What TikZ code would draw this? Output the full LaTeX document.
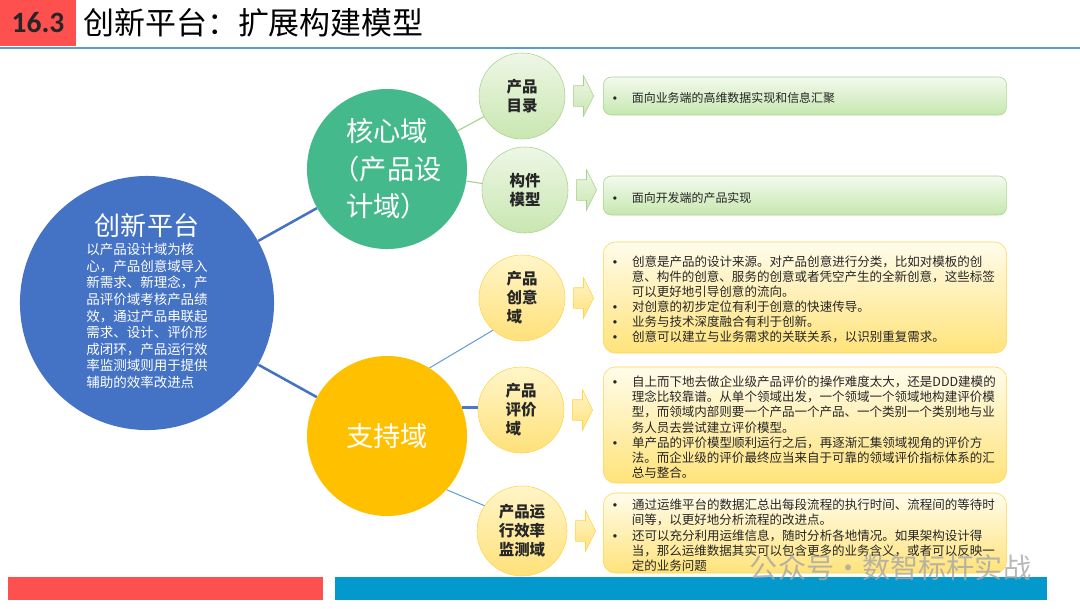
\documentclass[tikz,border=0pt]{standalone}
\usepackage{fontspec}
\setmainfont{Noto Sans CJK SC}
\newfontfamily\numfont{Carlito}
\newfontfamily\dotfont{Liberation Sans}
\usetikzlibrary{shapes.arrows, positioning}

\definecolor{tagred}{HTML}{FF5050}
\definecolor{rulebl}{HTML}{5B9BD5}
\definecolor{barblue}{HTML}{0399CC}
\definecolor{platblue}{HTML}{4472C4}
\definecolor{coregreen}{HTML}{44BA8C}
\definecolor{suppyel}{HTML}{FFC000}
\definecolor{ink}{HTML}{262626}
\definecolor{gedge}{HTML}{A9D18E}
\definecolor{gtop}{HTML}{EEF7E6}
\definecolor{gbot}{HTML}{C9E6B0}
\definecolor{gbtop}{HTML}{F3FAEE}
\definecolor{gbbot}{HTML}{C6E7AE}
\definecolor{yedge}{HTML}{FFD44F}
\definecolor{ytop}{HTML}{FFF5C8}
\definecolor{ybot}{HTML}{FFE17A}
\definecolor{ybtop}{HTML}{FFFCEB}
\definecolor{ybbot}{HTML}{FFE37A}
\definecolor{wmgray}{HTML}{A6A6A6}

% bullet list for the text boxes
\newenvironment{dotlist}{\begin{list}{{\dotfont\textbullet}}{%
  \setlength{\leftmargin}{13.5pt}\setlength{\labelsep}{10.5pt}%
  \setlength{\labelwidth}{3pt}\setlength{\itemsep}{0pt}%
  \setlength{\parsep}{0pt}\setlength{\topsep}{0pt}\setlength{\partopsep}{0pt}}}%
  {\end{list}}

\begin{document}
\begin{tikzpicture}[x=0.025cm, y=-0.025cm,
    bigcirc/.style={circle, inner sep=0pt, minimum size=4cm, text=white, align=center, font=\fontsize{19.4pt}{26.5pt}\selectfont},
    gcirc/.style={circle, draw=gedge, top color=gtop, bottom color=gbot, inner sep=0pt, minimum size=2.15cm, align=left, text=ink, font=\fontsize{11pt}{14pt}\selectfont\bfseries},
    ycirc/.style={gcirc, draw=yedge, top color=ytop, bottom color=ybot, font=\fontsize{11pt}{13.5pt}\selectfont\bfseries},
    gbox/.style={rectangle, rounded corners=0.2cm, draw=gedge, top color=gbtop, bottom color=gbbot, text width=9.6cm, inner xsep=0.24cm, inner ysep=0pt, anchor=west, text=ink, font=\fontsize{8.5pt}{10.7pt}\selectfont},
    ybox/.style={gbox, rounded corners=0.3cm, draw=yedge, top color=ybtop, bottom color=ybbot, font=\fontsize{8.9pt}{10.7pt}\selectfont},
    garrow/.style={single arrow, draw=gedge, top color=gtop, bottom color=gbot, minimum height=0.5cm, single arrow head extend=0.25cm, single arrow tip angle=127, inner xsep=0pt, inner ysep=0.25cm},
    yarrow/.style={garrow, draw=yedge, top color=ytop, bottom color=ybot},
    bigline/.style={draw=platblue, line width=1.8pt},
    gline/.style={draw=gedge, line width=0.8pt},
    thinline/.style={draw=rulebl, line width=0.7pt},
    midline/.style={draw=platblue!80!rulebl, line width=2pt}
]
    \useasboundingbox (0,0) rectangle (1080,608);

    % header and footer
    \node[fill=tagred, minimum width=1.9cm, minimum height=1.15cm, inner sep=0pt, text=ink, font=\numfont\bfseries\fontsize{21pt}{21pt}\selectfont] (tag) at (38,23) {16.3};
    \node[right=0.17cm of tag, inner sep=0pt, text=black, font=\fontsize{22pt}{22pt}\selectfont] (title) {创新平台：扩展构建模型};
    \draw[rulebl, line width=1.4pt] (0,48) -- (1080,48);
    \fill[tagred] (8,577) rectangle (323,600);
    \fill[barblue] (335,577) rectangle (1047,600);

    % domains
    \node[circle, fill=platblue, inner sep=0pt, minimum size=6.35cm, text=white, align=center] (plat) at (147,303)
        {{\fontsize{18.5pt}{22pt}\selectfont 创新平台}\\[3pt]
         {\fontsize{9.6pt}{11.8pt}\selectfont\begin{tabular}{@{}l@{}}
         以产品设计域为核\\心，产品创意域导入\\新需求、新理念，产\\品评价域考核产品绩\\效，通过产品串联起\\
         需求、设计、评价形\\成闭环，产品运行效\\率监测域则用于提供\\辅助的效率改进点\end{tabular}}};
    \node[bigcirc, fill=coregreen] (core) at (387,169) {核心域\\（产品设\\计域）};
    \node[bigcirc, fill=suppyel] (support) at (387,436) {支持域};

    \node[gcirc] (p1) at (522,96) {产品\\目录};
    \node[gcirc] (p2) at (525,190) {构件\\模型};
    \node[ycirc] (s1) at (522,298) {产品\\创意\\域};
    \node[ycirc] (s2) at (521,410) {产品\\评价\\域};
    \node[ycirc, minimum size=2.25cm] (s3) at (522,531) {产品运\\行效率\\监测域};

    \node[garrow, right=0.2cm of p1] (a1) {};
    \node[garrow, right=0.2cm of p2] (a2) {};
    \node[yarrow, right=0.2cm of s1] (a3) {};
    \node[yarrow, right=0.2cm of s2] (a4) {};
    \node[yarrow, right=0.2cm of s3] (a5) {};

    \node[gbox, minimum height=0.95cm] (b1) at (603,96)
        {\begin{dotlist}\item 面向业务端的高维数据实现和信息汇聚\end{dotlist}};
    \node[gbox, minimum height=0.975cm] (b2) at (603,195.5)
        {\begin{dotlist}\item 面向开发端的产品实现\end{dotlist}};
    \node[ybox, minimum height=2.775cm] (b3) at (603,297.5)
        {\begin{dotlist}
        \item 创意是产品的设计来源。对产品创意进行分类，比如对模板的创\\意、构件的创意、服务的创意或者凭空产生的全新创意，这些标签\\可以更好地引导创意的流向。
        \item 对创意的初步定位有利于创意的快速传导。
        \item 业务与技术深度融合有利于创新。
        \item 创意可以建立与业务需求的关联关系，以识别重复需求。
        \end{dotlist}};
    \node[ybox, minimum height=2.9cm] (b4) at (603,425)
        {\begin{dotlist}
        \item 自上而下地去做企业级产品评价的操作难度太大，还是DDD建模的\\理念比较靠谱。从单个领域出发，一个领域一个领域地构建评价模\\型，而领域内部则要一个产品一个产品、一个类别一个类别地与业\\务人员去尝试建立评价模型。
        \item 单产品的评价模型顺利运行之后，再逐渐汇集领域视角的评价方\\法。而企业级的评价最终应当来自于可靠的领域评价指标体系的汇\\总与整合。
        \end{dotlist}};
    \node[ybox, minimum height=2.0cm] (b5) at (603,533)
        {\begin{dotlist}
        \item 通过运维平台的数据汇总出每段流程的执行时间、流程间的等待时\\间等，以更好地分析流程的改进点。
        \item 还可以充分利用运维信息，随时分析各地情况。如果架构设计得\\当，那么运维数据其实可以包含更多的业务含义，或者可以反映一\\定的业务问题
        \end{dotlist}};

    % links
    \draw[bigline] (plat) -- (core);
    \draw[bigline] (plat) -- (support);
    \draw[gline] (core) -- (p1);
    \draw[gline] (core) -- (p2);
    \draw[thinline] (support.58) -- (s1.228);
    \draw[midline] (support.21) -- (support.21 -| s2.west);
    \draw[thinline] (support.-42) -- (s3.146);

    \node[anchor=west, text=wmgray, opacity=0.8, font=\fontsize{20pt}{20pt}\selectfont] (mark) at (745,568) {公众号・数智标杆实战};
\end{tikzpicture}
\end{document}
